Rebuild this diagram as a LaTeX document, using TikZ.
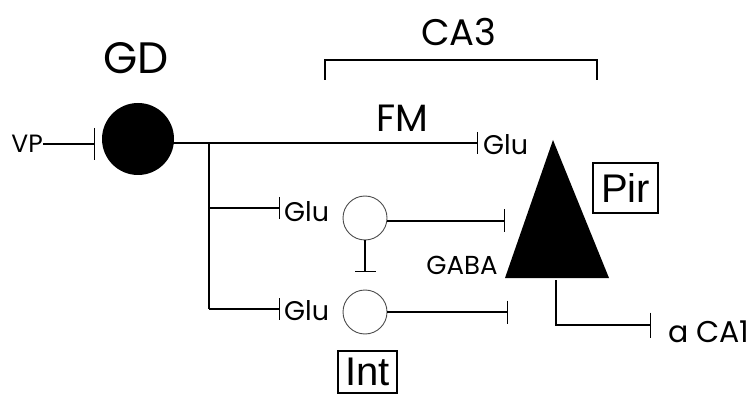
\documentclass[tikz,border=0pt]{standalone}
\usepackage{fontspec}
\setmainfont{Poppins}
\newfontfamily\boxfont{Liberation Sans}
\usetikzlibrary{arrows.meta}
\tikzset{
  ln/.style={line width=1.3pt},
  inh/.style={ln,-{Bar[width=#1,line width=1.3pt]}},
  inh/.default=22pt,
  lbl/.style={inner sep=0pt},
  cell/.style={circle,draw=black!70,line width=0.9pt,minimum size=44pt,inner sep=0pt},
  tag/.style={draw,line width=1.1pt,inner sep=0pt,font=\boxfont\fontsize{40}{40}\selectfont}
}
\begin{document}
\begin{tikzpicture}[x=1pt,y=-1pt]
\useasboundingbox (0,0) rectangle (749,395);
% coordinates
\coordinate (j0) at (138,143);
\coordinate (j1) at (209,143);
\coordinate (fmend) at (478,143);
\coordinate (j2) at (209,208);
\coordinate (j3) at (209,309);
\coordinate (b1end) at (280,208);
\coordinate (b2end) at (280,309);
\coordinate (vpend) at (95,144);
\coordinate (o1end) at (505,221);
\coordinate (o2end) at (508,312);
\coordinate (ibar) at (365,272);
\coordinate (apex) at (553,140);
\coordinate (bl) at (505,278);
\coordinate (br) at (609,278);
\coordinate (outtop) at (556,280);
\coordinate (outcorner) at (556,325);
\coordinate (outend) at (651,325);
\coordinate (bk1) at (325,80);
\coordinate (bk2) at (325,60);
\coordinate (bk3) at (597,60);
\coordinate (bk4) at (597,80);
% labels
\node[lbl,font=\fontsize{44}{44}\selectfont] (gdl) at (136,58) {GD};
\node[lbl,font=\fontsize{37}{37}\selectfont] (ca3) at (459,32) {CA3};
\node[lbl,font=\fontsize{38}{38}\selectfont] (fm) at (402,118) {FM};
\node[lbl,font=\fontsize{25}{25}\selectfont,anchor=east] (vp) at (43,144) {VP};
\node[lbl,font=\fontsize{27}{27}\selectfont,anchor=base west] (glu0) at (483,155) {Glu};
\node[lbl,font=\fontsize{27}{27}\selectfont,anchor=base west] (glu1) at (284,222) {Glu};
\node[lbl,font=\fontsize{27}{27}\selectfont,anchor=base west] (glu2) at (284,320) {Glu};
\node[lbl,font=\fontsize{26}{26}\selectfont] (gaba) at (462,265) {GABA};
\node[lbl,font=\fontsize{30}{30}\selectfont,anchor=base west] (ca1) at (668,342) {a CA1};
\node[tag,minimum width=65pt,minimum height=50pt] (pir) at (625.5,188) {Pir};
\node[tag,minimum width=59pt,minimum height=42pt] (int) at (367.5,372) {Int};
% bracket
\draw[ln] (bk1) -- (bk2) -- (bk3) -- (bk4);
% fibres
\draw[inh=32pt] (vp.east) -- (vpend);
\draw[inh] (j0) -- (fmend);
\draw[ln] (j1) -- (j3);
\draw[inh] (j2) -- (b1end);
\draw[inh] (j3) -- (b2end);
% GD cell
\node[circle,fill=black,minimum size=72pt,inner sep=0pt] (gd) at (138,139) {};
% interneurons
\node[cell] (c1) at (365,218) {};
\node[cell] (c2) at (365,312) {};
\draw[inh=23pt] (c1.east |- o1end) -- (o1end);
\draw[inh=23pt] (c2.east) -- (o2end);
\draw[inh=21pt] (c1.south) -- (ibar);
% pyramidal cell
\fill (apex) -- (bl) -- (br) -- cycle;
\draw[inh=25pt] (outtop) -- (outcorner) -- (outend);
\end{tikzpicture}
\end{document}
